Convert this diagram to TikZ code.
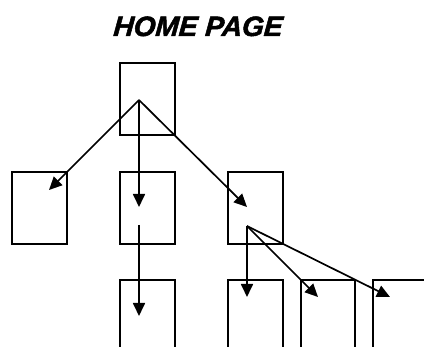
\documentclass[tikz,border=0pt]{standalone}
\usepackage{fontspec}
\setmainfont{Liberation Sans}
\newfontfamily\titlefont{Liberation Sans Bold Italic}[FakeBold=1.8,FakeSlant=0.08]
\usetikzlibrary{arrows.meta}
\begin{document}
\begin{tikzpicture}[x=1pt,y=-1pt,
  page/.style={draw,line width=1.7pt,minimum width=55pt,minimum height=72pt,inner sep=0pt,outer sep=0pt},
  link/.style={line width=1.7pt,-{Triangle[length=13pt,width=12pt]}},
  title/.style={font=\fontsize{28}{30}\titlefont,inner sep=0pt,anchor=base}]
\useasboundingbox (0,0) rectangle (424,347);
\clip (0,0) rectangle (424,347);
\node[title] (t) at (197.5,36) {HOME PAGE};
% boxes (top-left corners given)
\node[page,anchor=north west] (home) at (120,63) {};
\node[page,anchor=north west] (a) at (12,172) {};
\node[page,anchor=north west] (b) at (120,172) {};
\node[page,anchor=north west] (c) at (228,172) {};
\node[page,anchor=north west] (b1) at (120,280) {};
\node[page,anchor=north west] (c1) at (228,280) {};
\node[page,anchor=north west,minimum width=54pt] (c2) at (301,280) {};
\node[page,anchor=north west] (c3) at (373,280) {};
% anchor points
\coordinate (o) at (139,100);
\coordinate (ta) at (49,190);
\coordinate (tb) at (139,207);
\coordinate (tc) at (247,207);
\coordinate (ob) at (139,225);
\coordinate (tb1) at (139,316);
\coordinate (oc) at (247,226);
\coordinate (tc1) at (247,297);
\coordinate (tc2) at (318,297);
\coordinate (tc3) at (390,297);
\draw[link] (o) -- (ta);
\draw[link] (o) -- (tb);
\draw[link] (o) -- (tc);
\draw[link] (ob) -- (tb1);
\draw[link] (oc) -- (tc1);
\draw[link] (oc) -- (tc2);
\draw[link] (oc) -- (tc3);
\end{tikzpicture}
\end{document}
